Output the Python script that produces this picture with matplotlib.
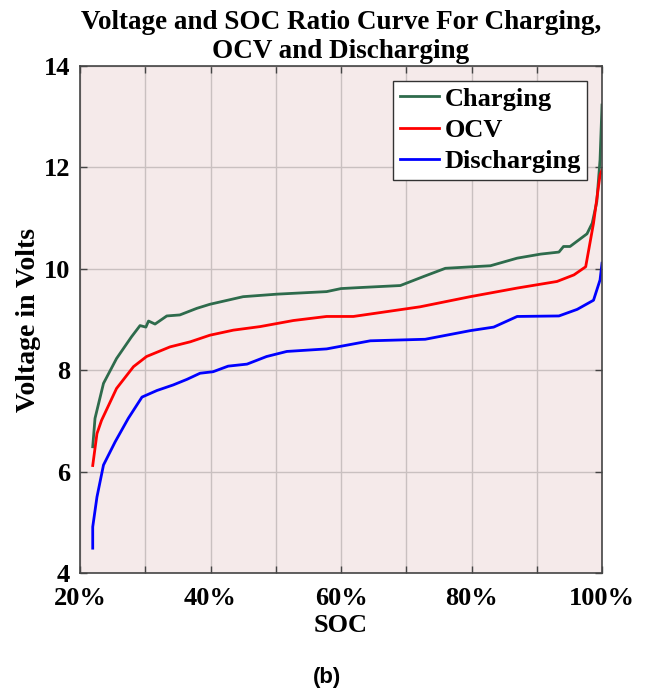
import matplotlib
matplotlib.use("Agg")
import matplotlib.pyplot as plt
from matplotlib.ticker import FuncFormatter

# Charging curve (SOC %, Volts)
chg_soc = [21.95, 22.3, 23.6, 25.6, 27.9, 29.2, 30.1, 30.5, 31.5, 33.3, 35.3, 37.9, 39.9,
           45.0, 50.2, 57.8, 60.0, 62.9, 69.1, 72.7, 76.0, 82.9, 87.0, 90.6, 93.4, 94.1,
           95.1, 97.7, 98.5, 99.2, 99.7, 100.0]
chg_v = [6.49, 7.05, 7.74, 8.23, 8.66, 8.88, 8.85, 8.97, 8.91, 9.07, 9.09, 9.22, 9.30,
         9.45, 9.50, 9.55, 9.61, 9.63, 9.67, 9.85, 10.01, 10.06, 10.21, 10.29, 10.33, 10.44,
         10.44, 10.69, 10.90, 11.32, 12.15, 13.23]

# OCV curve
ocv_soc = [21.95, 22.6, 23.3, 25.6, 28.2, 30.2, 33.8, 36.9, 39.9, 43.5, 47.6, 52.7, 57.8,
           61.9, 72.1, 79.8, 87.0, 93.1, 95.7, 97.5, 98.7, 99.7, 100.0]
ocv_v = [6.12, 6.75, 7.01, 7.64, 8.07, 8.27, 8.46, 8.56, 8.69, 8.79, 8.86, 8.98, 9.06,
         9.06, 9.25, 9.45, 9.62, 9.75, 9.88, 10.04, 10.90, 11.85, 11.95]

# Discharging curve
dis_soc = [21.95, 21.95, 22.6, 23.6, 25.4, 27.4, 29.5, 31.8, 34.3, 36.4, 38.4, 40.4, 42.7,
           45.6, 48.6, 51.7, 57.8, 64.5, 72.9, 79.8, 83.4, 87.0, 93.4, 96.2, 98.7, 99.7, 100.0]
dis_v = [4.49, 4.91, 5.50, 6.13, 6.59, 7.05, 7.47, 7.60, 7.71, 7.82, 7.94, 7.97, 8.08,
         8.12, 8.27, 8.37, 8.42, 8.58, 8.61, 8.78, 8.85, 9.06, 9.07, 9.20, 9.38, 9.78, 10.11]

xticks = [20, 40, 60, 80, 100]
yticks = [4, 6, 8, 10, 12, 14]

serif = ["Liberation Serif", "DejaVu Serif"]

fig = plt.figure(figsize=(6.49, 6.93), dpi=100)
ax = fig.add_axes([80/649, 1-573/693, (602-80)/649, (573-66)/693])
ax.set_facecolor("#f5eaea")

ax.plot(chg_soc, chg_v, color="#2e6b4c", lw=2, label="Charging")
ax.plot(ocv_soc, ocv_v, color="#ff0000", lw=2, label="OCV")
ax.plot(dis_soc, dis_v, color="#0000ff", lw=2, label="Discharging")

ax.set_xlim(20, 100)
ax.set_ylim(4, 14)
ax.set_xticks(xticks)
ax.set_xticks(list(range(30, 100, 20)), minor=True)
ax.set_yticks(yticks)
ax.xaxis.set_major_formatter(FuncFormatter(lambda v, p: f"{int(v)}%"))
ax.grid(True, which="both", color="#c9c0c0", lw=1)
ax.set_axisbelow(True)
ax.tick_params(which="both", direction="in", top=True, right=True, length=5, width=1,
               color="#444444")
ax.tick_params(axis="x", which="both", pad=10)
ax.tick_params(axis="y", which="both", pad=7)
for lab in ax.get_xticklabels() + ax.get_yticklabels():
    lab.set_fontfamily(serif)
    lab.set_fontweight("bold")
    lab.set_fontsize(19)
for s in ax.spines.values():
    s.set_color("#444444")
    s.set_linewidth(1.2)

ax.set_xlabel("SOC", family=serif, fontweight="bold", fontsize=19, labelpad=3)
ax.set_ylabel("Voltage in Volts", family=serif, fontweight="bold", fontsize=20, labelpad=2)
ax.set_title("Voltage and SOC Ratio Curve For Charging,\nOCV and Discharging",
             family=serif, fontweight="bold", fontsize=19.5, pad=6, linespacing=1.2)

leg = ax.legend(loc="upper right", prop={"family": serif, "weight": "bold", "size": 19},
                frameon=True, fancybox=False, edgecolor="#333333", framealpha=1,
                borderaxespad=0.55, handlelength=1.5, handletextpad=0.2,
                labelspacing=0.3, borderpad=0.25)
leg.get_frame().set_linewidth(1)

fig.text(327/649, 1-677/693, "(b)", ha="center", va="center",
         family=["Liberation Sans", "DejaVu Sans"], fontweight="bold", fontsize=16)

fig.savefig("out.png", dpi=100)
